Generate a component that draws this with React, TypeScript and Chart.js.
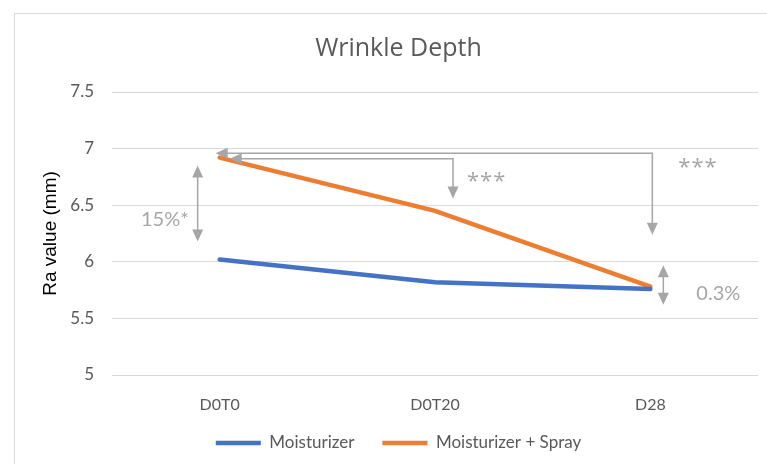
import React, { useEffect, useRef } from "react";
import { Chart, registerables } from "chart.js";

Chart.register(...registerables);

const categories = ["D0T0", "D0T20", "D28"];
const moisturizer = [6.02, 5.82, 5.76];
const moisturizerSpray = [6.92, 6.45, 5.78];
const yMin = 5;
const yMax = 7.5;
const yStep = 0.5;

// Annotation definitions (category index + pixel nudge, values on the y scale)
const doubleArrows = [
  { cat: 0, dx: -22, from: 6.85, to: 6.18 },
  { cat: 2, dx: 13, from: 5.97, to: 5.62 },
];
const brackets = [
  { fromCat: 0, fromDx: -4, toCat: 2, toDx: 2, level: 6.96, tip: 6.24 },
  { fromCat: 0, fromDx: 10, toCat: 1, toDx: 18, level: 6.91, tip: 6.56 },
];
const notes = [
  { text: "15%*", cat: 0, dx: -31, y: 6.37, align: "right" },
  { text: "***", cat: 1, dx: 32, y: 6.76, align: "left" },
  { text: "***", cat: 2, dx: 28, y: 6.88, align: "left" },
  { text: "0.3%", cat: 2, dx: 46, y: 5.72, align: "left" },
];

const GRAY = "#a6a6a6";
const TEXT = "#595959";

function head(ctx: CanvasRenderingContext2D, x: number, y: number, dir: "up" | "down" | "left") {
  const L = 12;
  const W = 5.5;
  ctx.beginPath();
  if (dir === "up") {
    ctx.moveTo(x, y);
    ctx.lineTo(x - W, y + L);
    ctx.lineTo(x + W, y + L);
  } else if (dir === "down") {
    ctx.moveTo(x, y);
    ctx.lineTo(x - W, y - L);
    ctx.lineTo(x + W, y - L);
  } else {
    ctx.moveTo(x, y);
    ctx.lineTo(x + L, y - W);
    ctx.lineTo(x + L, y + W);
  }
  ctx.closePath();
  ctx.fill();
}

const framePlugin = {
  id: "frame",
  afterLayout(chart: any) {
    // nudge the legend up a little and let the x labels draw unclipped
    if (chart.legend) {
      chart.legend.top -= 2.5;
      chart.legend.bottom -= 2.5;
    }
    if (chart.scales.x) chart.scales.x.bottom += 10;
  },
  beforeDraw(chart: any) {
    const ctx = chart.ctx as CanvasRenderingContext2D;
    ctx.save();
    ctx.fillStyle = "#ffffff";
    ctx.fillRect(0, 0, chart.width, chart.height);
    ctx.strokeStyle = "#d9d9d9";
    ctx.lineWidth = 1;
    ctx.strokeRect(14.5, 13.5, chart.width + 20, chart.height + 20);
    ctx.restore();
  },
};

const annotationPlugin = {
  id: "annotations",
  afterDatasetsDraw(chart: any) {
    const ctx = chart.ctx as CanvasRenderingContext2D;
    const xs = chart.scales.x;
    const ys = chart.scales.y;
    ctx.save();
    ctx.strokeStyle = GRAY;
    ctx.fillStyle = GRAY;
    ctx.lineWidth = 1.5;

    doubleArrows.forEach((a) => {
      const x = xs.getPixelForValue(a.cat) + a.dx;
      const y1 = ys.getPixelForValue(a.from);
      const y2 = ys.getPixelForValue(a.to);
      ctx.beginPath();
      ctx.moveTo(x, y1 + 10);
      ctx.lineTo(x, y2 - 10);
      ctx.stroke();
      head(ctx, x, y1, "up");
      head(ctx, x, y2, "down");
    });

    brackets.forEach((b) => {
      const x1 = xs.getPixelForValue(b.fromCat) + b.fromDx;
      const x2 = xs.getPixelForValue(b.toCat) + b.toDx;
      const yl = ys.getPixelForValue(b.level);
      const yt = ys.getPixelForValue(b.tip);
      ctx.beginPath();
      ctx.moveTo(x1 + 10, yl);
      ctx.lineTo(x2, yl);
      ctx.lineTo(x2, yt - 10);
      ctx.stroke();
      head(ctx, x1, yl, "left");
      head(ctx, x2, yt, "down");
    });

    notes.forEach((n) => {
      const x = xs.getPixelForValue(n.cat) + n.dx;
      const y = ys.getPixelForValue(n.y);
      ctx.textAlign = n.align as CanvasTextAlign;
      if (n.text === "***") {
        ctx.textBaseline = "alphabetic";
        ctx.font = "22px 'Open Sans'";
        (ctx as any).letterSpacing = "1px";
        ctx.fillText(n.text, x, y + 12);
        (ctx as any).letterSpacing = "0px";
      } else {
        ctx.textBaseline = "middle";
        ctx.font = "20px Lato";
        ctx.fillText(n.text, x, y);
      }
    });
    ctx.restore();
  },
};

export default function App() {
  const ref = useRef<HTMLCanvasElement | null>(null);

  useEffect(() => {
    if (!ref.current) return;
    const chart = new Chart(ref.current, {
      type: "line",
      data: {
        labels: categories,
        datasets: [
          {
            label: "Moisturizer",
            data: moisturizer,
            borderColor: "#4472c4",
            backgroundColor: "#4472c4",
            borderWidth: 4.5,
            borderCapStyle: "round",
            pointRadius: 0,
            tension: 0,
          },
          {
            label: "Moisturizer + Spray",
            data: moisturizerSpray,
            borderColor: "#ed7d31",
            backgroundColor: "#ed7d31",
            borderWidth: 4.5,
            borderCapStyle: "round",
            pointRadius: 0,
            tension: 0,
          },
        ],
      },
      options: {
        responsive: false,
        animation: false,
        layout: { padding: { top: 24, left: 39, right: 9, bottom: 0 } },
        plugins: {
          title: {
            display: true,
            text: "Wrinkle Depth",
            color: TEXT,
            font: { family: "'Open Sans'", size: 25, weight: "normal" },
            padding: { top: 10, bottom: 28 },
          },
          legend: {
            position: "bottom",
            labels: {
              usePointStyle: true,
              pointStyle: "line",
              pointStyleWidth: 45,
              color: TEXT,
              font: { family: "Lato", size: 17 },
              padding: 28,
            },
          },
          tooltip: { enabled: false },
        },
        scales: {
          x: {
            offset: true,
            grid: { display: false, drawTicks: false },
            border: { display: false },
            ticks: {
              color: TEXT,
              font: { family: "Lato", size: 16 },
              padding: 20,
            },
            afterFit: (s: any) => {
              s.height = 34;
            },
          },
          y: {
            min: yMin,
            max: yMax,
            border: { display: false },
            grid: { color: "#d9d9d9", lineWidth: 1, drawTicks: false },
            ticks: {
              stepSize: yStep,
              color: TEXT,
              font: { family: "Lato", size: 17 },
              padding: 18,
              callback: (v: any) => String(Number(v)),
            },
            title: {
              display: true,
              text: "Ra value (mm)",
              color: "#000000",
              font: { family: "'Liberation Sans'", size: 19 },
              padding: { top: 0, bottom: 8 },
            },
            afterFit: (s: any) => {
              s.width = 73;
            },
          },
        },
      },
      plugins: [framePlugin, annotationPlugin],
    });
    return () => chart.destroy();
  }, []);

  return (
    <div style={{ position: "absolute", left: 0, top: 0, width: 767, height: 464 }}>
      <canvas ref={ref} width={767} height={464} />
    </div>
  );
}
